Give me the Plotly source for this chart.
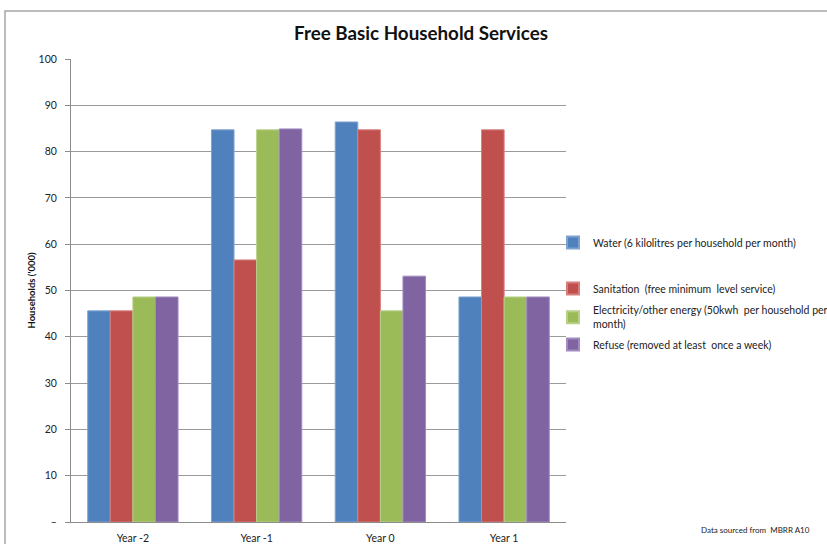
import plotly.graph_objects as go

# Free basic household services, in thousands of households
years = ["Year -2", "Year -1", "Year 0", "Year 1"]
water = [45.6, 84.7, 86.4, 48.6]
sanitation = [45.6, 56.6, 84.7, 84.7]
electricity = [48.6, 84.7, 45.6, 48.6]
refuse = [48.6, 84.9, 53.1, 48.6]

series_names = [
    "Water (6 kilolitres per household per month)",
    "Sanitation  (free minimum  level service)",
    "Electricity/other energy (50kwh  per household per<br>month)",
    "Refuse (removed at least  once a week)",
]
series_values = [water, sanitation, electricity, refuse]
fill_colors = ["#4F81BD", "#C0504D", "#9BBB59", "#8064A2"]
edge_colors = ["#7FA3D0", "#D6807E", "#B8D089", "#A08CC0"]

W, H = 827, 544
L, R, T, B = 71, 566, 59, 522  # plot area in pixels
pw, ph = R - L, B - T


def px_x(x):
    return (x - L) / pw


def px_y(y):
    return (B - y) / ph


FONT = "Lato, sans-serif"

fig = go.Figure()
legend_keys = ["legend", "legend2", "legend3", "legend4"]
for name, vals, fc, ec, lk in zip(series_names, series_values, fill_colors, edge_colors, legend_keys):
    fig.add_trace(go.Bar(
        x=years, y=vals, name=name,
        marker=dict(color=fc, line=dict(color=ec, width=1)),
        legend=lk,
    ))

# legend entry tops, in pixels from the top of the page
legend_tops = [228, 274, 297, 330]
legend_common = dict(
    font=dict(family=FONT, size=10.5, color="#222"),
    bgcolor="rgba(0,0,0,0)",
    itemwidth=30,
    itemsizing="constant",
    xref="container", yref="container",
    xanchor="left", yanchor="top",
)
layout_legends = {}
for lk, top in zip(legend_keys, legend_tops):
    layout_legends[lk] = dict(x=553 / W, y=1 - top / H, **legend_common)

fig.update_layout(
    width=W, height=H,
    margin=dict(l=L, r=W - R, t=T, b=H - B, autoexpand=False),
    paper_bgcolor="white", plot_bgcolor="white",
    barmode="group", bargap=0.27, bargroupgap=0.0,
    title=dict(
        text="<b>Free Basic Household Services</b>",
        x=421 / W, xanchor="center", xref="container",
        y=1 - 33 / H, yanchor="middle",
        font=dict(family=FONT, size=18.8, color="#111"),
    ),
    xaxis=dict(
        showline=True, linecolor="#8c8c8c", linewidth=1,
        ticks="", ticklabelstandoff=6,
        tickfont=dict(family=FONT, size=10.5, color="#222"),
        showgrid=False,
    ),
    yaxis=dict(
        range=[0, 100], tickvals=list(range(0, 101, 10)),
        ticktext=["–"] + [str(v) for v in range(10, 101, 10)],
        showline=True, linecolor="#8c8c8c", linewidth=1,
        ticks="outside", ticklen=5, tickcolor="#8c8c8c", tickwidth=1,
        ticklabelstandoff=6,
        showgrid=True, gridcolor="#9a9a9a", gridwidth=1,
        tickfont=dict(family=FONT, size=10.5, color="#222"),
        title=dict(text="<b>Households ('000)</b>", standoff=1,
                   font=dict(family=FONT, size=9.5, color="#111")),
        zeroline=False,
    ),
    showlegend=True,
    **layout_legends,
)

# Outer chart frame
fig.add_shape(
    type="rect", xref="paper", yref="paper",
    x0=px_x(5), x1=px_x(840), y0=px_y(560), y1=px_y(11),
    line=dict(color="#a6a6a6", width=1.5), fillcolor="rgba(0,0,0,0)", layer="below",
)

fig.add_annotation(
    text="Data sourced from  MBRR A10", xref="paper", yref="paper",
    x=px_x(812), y=px_y(530), xanchor="right", yanchor="middle",
    showarrow=False, font=dict(family=FONT, size=8, color="#222"),
)

fig.write_html("out.html")
